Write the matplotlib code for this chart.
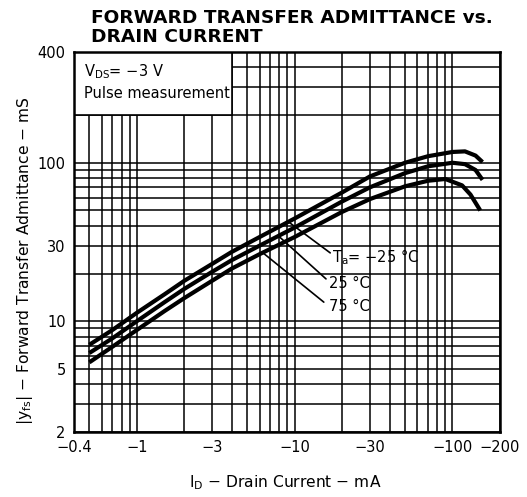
import matplotlib
matplotlib.use("Agg")
import matplotlib.pyplot as plt
from matplotlib.patches import Rectangle
from matplotlib.ticker import FixedLocator, NullFormatter

# Drain current (mA, magnitude) and |yfs| (mS)
id_m25 = [0.5, 0.7, 1.0, 1.5, 2, 3, 4, 6, 10, 20, 30, 50, 70, 100, 120, 140, 155]
yfs_m25 = [7.1, 8.8, 11.3, 14.8, 18, 23, 27.4, 34, 44.5, 65, 82, 100, 110, 117, 118, 111, 101]

id_25 = [0.5, 0.7, 1.0, 1.5, 2, 3, 4, 6, 10, 20, 30, 50, 70, 100, 120, 140, 155]
yfs_25 = [6.3, 7.8, 10, 13.2, 16, 20.5, 24.3, 30, 39, 57, 70, 86, 95, 100, 98, 90, 78]

id_75 = [0.5, 0.7, 1.0, 1.5, 2, 3, 4, 6, 10, 20, 30, 50, 70, 90, 115, 130, 150]
yfs_75 = [5.5, 6.9, 8.8, 11.6, 14, 18, 21.5, 26.5, 34, 49, 59, 71, 77, 79, 72, 63, 50]

x_ticks = [0.4, 1, 3, 10, 30, 100, 200]
x_labels = ["\u22120.4", "\u22121", "\u22123", "\u221210", "\u221230", "\u2212100", "\u2212200"]
y_ticks = [2, 5, 10, 30, 100, 500]
y_labels = ["2", "5", "10", "30", "100", "400"]

fig = plt.figure(figsize=(5.27, 4.97), dpi=100)
ax = fig.add_axes([74/527, 1-432/497, 426/527, 380/497])
ax.set_xscale("log")
ax.set_yscale("log")
ax.set_xlim(0.4, 200)
ax.set_ylim(2, 500)

# gridlines on every 1..9 step of each decade
xg = [m*10**e for e in (-1, 0, 1, 2) for m in range(1, 10) if 0.4 <= m*10**e <= 200]
yg = [m*10**e for e in (0, 1, 2) for m in range(1, 10) if 2 <= m*10**e <= 500]
ax.xaxis.set_minor_locator(FixedLocator(xg))
ax.yaxis.set_minor_locator(FixedLocator(yg))
ax.xaxis.set_minor_formatter(NullFormatter())
ax.yaxis.set_minor_formatter(NullFormatter())
ax.set_xticks(x_ticks)
ax.set_xticklabels(x_labels)
ax.set_yticks(y_ticks)
ax.set_yticklabels(y_labels)
ax.tick_params(which="both", length=0, labelsize=10.5, colors="black")
ax.tick_params(axis="x", pad=6)
ax.tick_params(axis="y", pad=6)
ax.set_axisbelow(True)
ax.grid(True, which="both", color="black", linewidth=1.1)
for s in ax.spines.values():
    s.set_linewidth(1.8)

# white box with conditions, covers the grid top-left
ax.add_patch(Rectangle((0.4, 200), 4-0.4, 300, facecolor="white",
                       edgecolor="black", linewidth=1.2, zorder=1))
ax.text(0.46, 378, r"V$_{\mathrm{DS}}$= $-$3 V", fontsize=10.5, va="center", zorder=4)
ax.text(0.46, 275, "Pulse measurement", fontsize=10.5, va="center", zorder=4)

for xs, ys in [(id_m25, yfs_m25), (id_25, yfs_25), (id_75, yfs_75)]:
    ax.plot(xs, ys, color="black", linewidth=3.0, solid_capstyle="butt", zorder=3)

# leaders and temperature labels
lp = dict(arrowstyle="-", color="black", linewidth=1.2, shrinkA=0, shrinkB=0)
ax.annotate("", xy=(9.1, 42.5), xytext=(16.8, 27.0), arrowprops=lp)
ax.annotate("", xy=(7.9, 34.5), xytext=(15.8, 18.5), arrowprops=lp)
ax.annotate("", xy=(6.3, 27.0), xytext=(15.3, 13.2), arrowprops=lp)
ax.text(17.3, 25.2, r"T$_{\mathrm{a}}$= $-$25 °C", fontsize=10.5, va="center")
ax.text(16.5, 17.2, "25 °C", fontsize=10.5, va="center")
ax.text(16.5, 12.3, "75 °C", fontsize=10.5, va="center")

fig.text(91/527, 1-18/497, "FORWARD TRANSFER ADMITTANCE vs.", fontsize=13.3,
         fontweight="bold", va="center", ha="left")
fig.text(91/527, 1-37/497, "DRAIN CURRENT", fontsize=13.3,
         fontweight="bold", va="center", ha="left")
fig.text(25/527, 1-261/497, r"|y$_{\mathrm{fs}}$| $-$ Forward Transfer Admittance $-$ mS",
         rotation=90, fontsize=11.2, va="center", ha="center")
fig.text(285/527, 1-483/497, r"I$_{\mathrm{D}}$ $-$ Drain Current $-$ mA",
         fontsize=11.2, va="center", ha="center")

fig.savefig("out.png", dpi=100, facecolor="white")
